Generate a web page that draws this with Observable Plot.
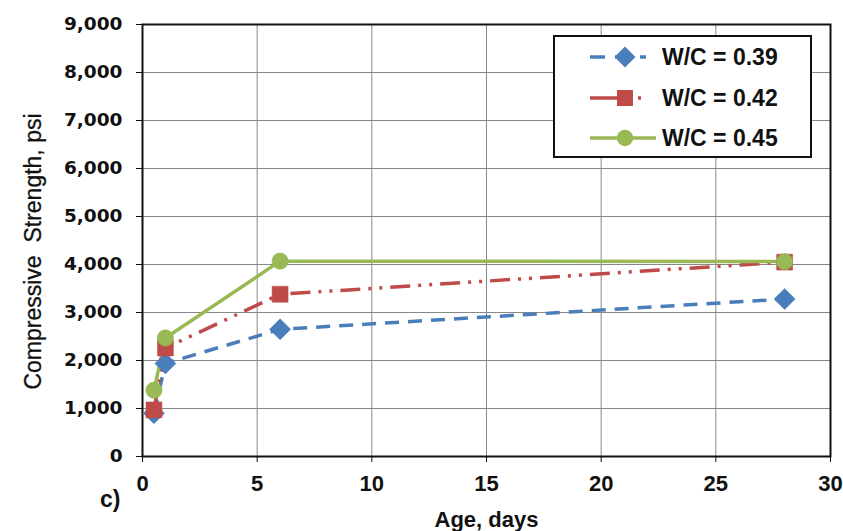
<!DOCTYPE html>
<html>
<head>
<meta charset="utf-8">
<script src="https://cdn.jsdelivr.net/npm/d3@7"></script>
<script src="https://cdn.jsdelivr.net/npm/@observablehq/plot@0.6"></script>
<style>
  html, body { margin: 0; padding: 0; background: #fff; }
  #wrap { position: relative; width: 843px; height: 531px; font-family: "Liberation Sans", Arial, sans-serif; }
  #legend { position: absolute; left: 553px; top: 35px; width: 255px; height: 119px; border: 2px solid #111; background: #fff; }
  .row { position: absolute; height: 30px; display: flex; align-items: center; }
  .row span { font-weight: bold; font-size: 23px; color: #111; margin-left: 2px; white-space: nowrap; }
  #tag { position: absolute; left: 100px; top: 486px; font-weight: bold; font-size: 23px; color: #111; }
</style>
</head>
<body>
<div id="wrap">
  <div id="chart"></div>
  <div id="legend"></div>
  <div id="tag">c)</div>
</div>
<script>
const ages = [0.5, 1, 6, 28];
const seriesNames = ["W/C = 0.39", "W/C = 0.42", "W/C = 0.45"];
const wc039 = [900, 1940, 2650, 3280];
const wc042 = [970, 2260, 3380, 4050];
const wc045 = [1380, 2470, 4070, 4060];
const yTicks = [0, 1000, 2000, 3000, 4000, 5000, 6000, 7000, 8000, 9000];
const xTicks = [0, 5, 10, 15, 20, 25, 30];
const xTitle = "Age, days";
const yTitle = "Compressive  Strength, psi";

const colors = ["#4a7ebb", "#be4b48", "#98b954"];
const dashes = ["14,9", "20,8,3,8,3,8", null];
const legendDashes = ["15,10", "30,18,3,30", null];
const legendLineEnd = [56, 68, 66];
const symbols = ["square", "square", "circle"];
const rotations = [45, 0, 0];
const sizes = [8.4, 9, 8.2];
const values = [wc039, wc042, wc045];

const marks = [
  Plot.gridX(xTicks, {stroke: "#888", strokeOpacity: 1, strokeWidth: 1}),
  Plot.gridY(yTicks, {stroke: "#888", strokeOpacity: 1, strokeWidth: 1}),
  Plot.axisY(yTicks, {tickFormat: d3.format(","), tickSize: 6, tickPadding: 14, fontSize: 18.5, fontWeight: "bold",
    fontFamily: "'DejaVu Sans', sans-serif", label: null, color: "#111"}),
  Plot.axisX(xTicks, {tickSize: 6, tickPadding: 13, fontSize: 22, fontWeight: "bold",
    fontFamily: "'Liberation Sans', Arial, sans-serif", label: null, color: "#111"}),
  Plot.text([yTitle], {frameAnchor: "left", rotate: -90, dx: -109, dy: 11, textAnchor: "middle", lineAnchor: "middle",
    fontSize: 23, fontFamily: "'Liberation Sans', Arial, sans-serif", fill: "#111", stroke: "#111", strokeWidth: 0.3}),
  Plot.text([xTitle], {frameAnchor: "bottom", dy: 63, textAnchor: "middle", lineAnchor: "middle",
    fontSize: 22, fontWeight: "bold", fontFamily: "'Liberation Sans', Arial, sans-serif", fill: "#111"}),
  Plot.frame({stroke: "#111", strokeWidth: 2})
];
values.forEach((vals, i) => {
  const data = ages.map((a, j) => ({age: a, v: vals[j]}));
  marks.push(Plot.line(data, {x: "age", y: "v", stroke: colors[i], strokeWidth: 3.5, strokeDasharray: dashes[i], strokeLinecap: "butt"}));
});
values.forEach((vals, i) => {
  const data = ages.map((a, j) => ({age: a, v: vals[j]}));
  marks.push(Plot.dot(data, {x: "age", y: "v", symbol: () => symbols[i], rotate: rotations[i], fill: colors[i],
    stroke: colors[i], strokeWidth: 0.5, r: sizes[i]}));
});

const chart = Plot.plot({
  width: 843, height: 531,
  marginLeft: 142, marginRight: 13, marginTop: 24, marginBottom: 75,
  x: {domain: [0, 30]},
  y: {domain: [0, 9000]},
  symbol: {type: "identity"},
  style: {fontFamily: "'Liberation Sans', Arial, sans-serif", background: "#fff"},
  marks
});
document.getElementById("chart").appendChild(chart);

// Legend
const legend = document.getElementById("legend");
const rowCenters = [57, 98, 138];
seriesNames.forEach((name, i) => {
  const row = document.createElement("div");
  row.className = "row";
  row.style.top = (rowCenters[i] - 35 - 2 - 15) + "px";
  row.style.left = "35px";
  const svg = d3.create("svg").attr("width", 70).attr("height", 30);
  svg.append("line").attr("x1", 0).attr("x2", legendLineEnd[i]).attr("y1", 15).attr("y2", 15)
    .attr("stroke", colors[i]).attr("stroke-width", 3.5).attr("stroke-dasharray", legendDashes[i]);
  const sym = d3.symbol().type(symbols[i] === "circle" ? d3.symbolCircle : d3.symbolSquare).size(Math.PI * sizes[i] * sizes[i]);
  svg.append("path").attr("d", sym()).attr("transform", `translate(35,15) rotate(${rotations[i]})`).attr("fill", colors[i]);
  row.appendChild(svg.node());
  const t = document.createElement("span");
  t.textContent = name;
  row.appendChild(t);
  legend.appendChild(row);
});
</script>
</body>
</html>
